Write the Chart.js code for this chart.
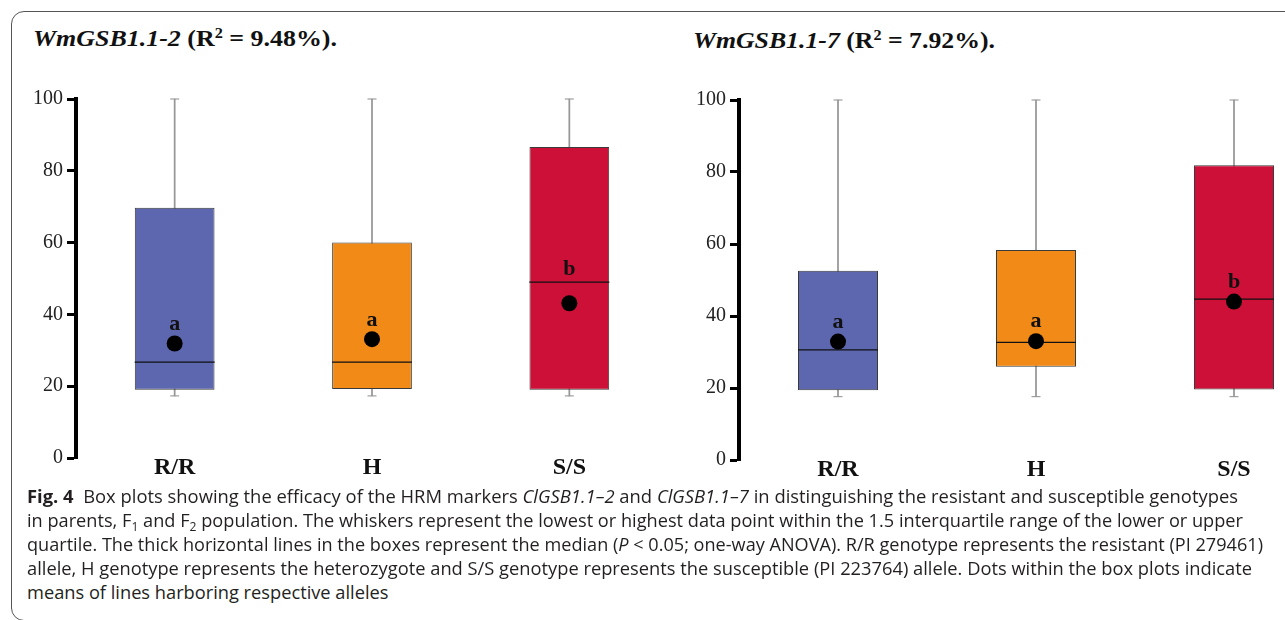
<!DOCTYPE html>
<html><head><meta charset="utf-8">
<script src="https://cdn.jsdelivr.net/npm/chart.js@4.4.1/dist/chart.umd.min.js"></script>
<style>
html,body{margin:0;padding:0;width:1285px;height:620px;overflow:hidden;background:#fff;}
#frame{position:absolute;left:11px;top:11px;width:1400px;height:610px;border:1px solid #555;border-radius:13px;box-sizing:border-box;}
.title{position:absolute;font-family:'Liberation Serif',serif;font-weight:bold;font-size:24px;line-height:24px;color:#111;white-space:nowrap;transform-origin:0 0;}
.title sup{font-size:15px;line-height:0;vertical-align:8px;}
.cap{position:absolute;left:27px;font-family:'Open Sans',sans-serif;font-size:18px;line-height:24px;color:#231f20;white-space:nowrap;transform-origin:0 0;}
.cap sub{font-size:12px;line-height:0;vertical-align:-4px;}
canvas{position:absolute;}
</style></head>
<body>
<div id="frame"></div>
<div class="title" id="t1" style="left:33px;top:26px;"><i>WmGSB1.1-2</i> (R<sup>2</sup> = 9.48%).</div>
<div class="title" id="t2" style="left:693px;top:28px;"><i>WmGSB1.1-7</i> (R<sup>2</sup> = 7.92%).</div>
<canvas id="c1" width="668" height="410" style="left:0px;top:80px;"></canvas>
<canvas id="c2" width="670" height="412" style="left:663px;top:80px;"></canvas>
<div class="cap" id="l1" style="top:484px;"><b>Fig. 4</b>&nbsp; Box plots showing the efficacy of the HRM markers <i>ClGSB1.1–2</i> and <i>ClGSB1.1–7</i> in distinguishing the resistant and susceptible genotypes</div>
<div class="cap" id="l2" style="top:508px;">in parents, F<sub>1</sub> and F<sub>2</sub> population. The whiskers represent the lowest or highest data point within the 1.5 interquartile range of the lower or upper</div>
<div class="cap" id="l3" style="top:532px;">quartile. The thick horizontal lines in the boxes represent the median (<i>P</i> &lt; 0.05; one-way ANOVA). R/R genotype represents the resistant (PI 279461)</div>
<div class="cap" id="l4" style="top:556px;">allele, H genotype represents the heterozygote and S/S genotype represents the susceptible (PI 223764) allele. Dots within the box plots indicate</div>
<div class="cap" id="l5" style="top:580px;">means of lines harboring respective alleles</div>
<script>
// ---- data ----
const categories = ['R/R', 'H', 'S/S'];
const boxColors = ['#5D67AF', '#F28A18', '#CC1037'];
const yTickStep = 20;

// WmGSB1.1-2
const m2WhiskerLow  = [17.3, 17.3, 17.3];
const m2WhiskerHigh = [100, 100, 100];
const m2Q1          = [19.0, 19.2, 19.0];
const m2Q3          = [69.7, 60.0, 86.6];
const m2Median      = [26.7, 26.7, 49.0];
const m2Mean        = [31.9, 33.1, 43.1];
const m2Letters     = ['a', 'a', 'b'];
const m2LetterAt    = [35.7, 36.8, 51.0];

// WmGSB1.1-7
const m7WhiskerLow  = [17.6, 17.6, 17.6];
const m7WhiskerHigh = [100, 100, 100];
const m7Q1          = [19.4, 25.9, 19.6];
const m7Q3          = [52.6, 58.3, 81.9];
const m7Median      = [30.6, 32.7, 44.7];
const m7Mean        = [32.9, 33.0, 44.0];
const m7Letters     = ['a', 'a', 'b'];
const m7LetterAt    = [36.6, 36.9, 47.7];

const letterPlugin = {
  id: 'letters',
  afterDatasetsDraw(chart, args, opts) {
    const ctx = chart.ctx, xs = chart.scales.x, ys = chart.scales.y;
    ctx.save();
    ctx.fillStyle = '#111';
    ctx.textAlign = 'center';
    ctx.textBaseline = 'alphabetic';
    ctx.font = 'bold 22px "Liberation Serif", serif';
    opts.letters.forEach((t, i) => {
      ctx.fillText(t, xs.getPixelForValue(i), ys.getPixelForValue(opts.at[i]));
    });
    // category labels under the axis
    ctx.font = 'bold 24px "Liberation Serif", serif';
    categories.forEach((c, i) => {
      ctx.fillText(c, xs.getPixelForValue(i), chart.chartArea.bottom + 16);
    });
    ctx.restore();
  }
};

function makeChart(id, padTop, low, high, q1, q3, med, mean, letters, at) {
  new Chart(document.getElementById(id), {
    data: {
      labels: categories,
      datasets: [
        { type: 'bar', label: 'whisker', data: low.map((v, i) => [v, high[i]]),
          backgroundColor: '#979797', barThickness: 1.1, grouped: false, order: 6, clip: false },
        { type: 'bar', label: 'box', data: q1.map((v, i) => [v, q3[i]]),
          backgroundColor: boxColors, borderColor: '#3a3a3a', borderWidth: 1, borderSkipped: false,
          barPercentage: 0.404, categoryPercentage: 1, grouped: false, order: 5, clip: false },
        { type: 'line', label: 'capLow', data: low, showLine: false, pointStyle: 'line',
          pointRadius: 4.5, pointBorderWidth: 1.1, pointBorderColor: '#979797', order: 4, clip: false },
        { type: 'line', label: 'capHigh', data: high, showLine: false, pointStyle: 'line',
          pointRadius: 4.5, pointBorderWidth: 1.1, pointBorderColor: '#979797', order: 4, clip: false },
        { type: 'line', label: 'median', data: med, showLine: false, pointStyle: 'line',
          pointRadius: 40, pointBorderWidth: 1.3, pointBorderColor: '#111', order: 3, clip: false },
        { type: 'line', label: 'mean', data: mean, showLine: false, pointStyle: 'circle',
          pointRadius: 8, pointBackgroundColor: '#000', pointBorderColor: '#000', pointBorderWidth: 0, order: 1, clip: false }
      ]
    },
    options: {
      responsive: false, animation: false, events: [],
      layout: { autoPadding: false, padding: { top: padTop, left: 0, right: 0, bottom: 0 } },
      plugins: { legend: { display: false }, tooltip: { enabled: false }, letters: { letters: letters, at: at } },
      scales: {
        x: {
          grid: { display: false, drawTicks: false }, border: { display: false },
          ticks: { display: false },
          afterFit: s => { s.height = 32; }
        },
        y: {
          min: 0, max: 100,
          ticks: { stepSize: yTickStep, color: '#222', padding: 4, font: { family: 'Liberation Serif', size: 20 } },
          grid: { drawOnChartArea: false, drawTicks: true, tickLength: 9, tickWidth: 3, tickColor: '#000', color: '#000' },
          border: { display: true, width: 4, color: '#000' },
          afterFit: s => { s.width = 76; }
        }
      }
    },
    plugins: [letterPlugin]
  });
}

makeChart('c1', 19, m2WhiskerLow, m2WhiskerHigh, m2Q1, m2Q3, m2Median, m2Mean, m2Letters, m2LetterAt);
makeChart('c2', 20, m7WhiskerLow, m7WhiskerHigh, m7Q1, m7Q3, m7Median, m7Mean, m7Letters, m7LetterAt);

function fitAll() {
  const fit = (id, target) => {
    const el = document.getElementById(id);
    el.style.transform = 'none';
    const w = el.getBoundingClientRect().width;
    const s = target / w;
    el.style.transform = 'scaleX(' + s + ')';
    return s;
  };
  fit('t1', 304); fit('t2', 302);
  const s1 = fit('l1', 1238 - 27), s2 = fit('l2', 1243 - 27), s3 = fit('l3', 1263 - 27), s4 = fit('l4', 1252 - 27);
  const avg = (s1 + s2 + s3 + s4) / 4;
  document.getElementById('l5').style.transform = 'scaleX(' + avg + ')';
}
fitAll();
if (document.fonts && document.fonts.ready) document.fonts.ready.then(fitAll);
</script>
</body></html>
